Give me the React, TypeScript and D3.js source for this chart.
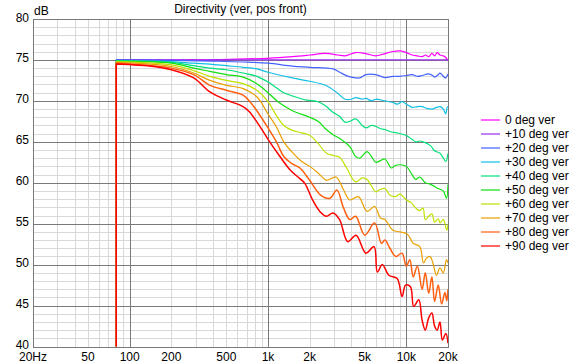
import React from 'react';
import * as d3 from 'd3';

// Directivity (ver, pos front) - frequency [Hz], level [dB]
const deg0 = [[80,75.0],[300,75.0],[600,75.1],[1000,75.2],[1500,75.4],[2000,75.6],[2600,75.8],[3200,75.6],[3600,75.5],[4300,75.9],[5000,75.8],[6000,75.5],[6800,75.7],[7800,76.0],[9100,76.1],[10000,75.9],[11000,75.6],[12000,75.5],[13000,75.4],[13800,75.6],[14500,75.4],[15300,75.8],[16000,75.5],[16700,75.9],[17500,75.6],[18500,75.5],[19300,75.3],[20000,74.9]];
const deg10 = [[80,75.0],[20000,75.0]];
const deg20 = [[80,75.0],[200,74.95],[400,74.85],[660,74.75],[1000,74.6],[1500,74.25],[2000,74.1],[2950,73.9],[3300,73.5],[3800,73.0],[4600,72.8],[5100,73.2],[6000,73.2],[7000,72.85],[8000,73.0],[9000,73.0],[10000,73.1],[11000,73.2],[12000,73.0],[13000,73.1],[14500,73.3],[15500,73.1],[16000,72.9],[17000,73.2],[17500,73.4],[18500,73.0],[19200,72.8],[20000,73.3]];
const deg30 = [[80,74.95],[200,74.8],[290,74.6],[380,74.5],[500,74.3],[660,74.1],[830,73.9],[1000,73.5],[1500,72.8],[2000,72.4],[2600,71.9],[3100,71.1],[3600,70.2],[4000,70.2],[4300,70.4],[4800,70.2],[5100,70.3],[5600,70.0],[6000,70.2],[7000,70.0],[8000,69.8],[8600,69.6],[9300,69.9],[10000,69.6],[11000,69.2],[12000,69.3],[13000,69.3],[14000,69.1],[15300,69.0],[16500,69.2],[17500,69.3],[18500,69.0],[19300,68.4],[19700,69.2],[20000,69.3]];
const deg40 = [[80,74.9],[200,74.7],[290,74.3],[380,74.0],[500,73.8],[660,73.4],[830,73.0],[1000,72.3],[1150,71.6],[1300,71.0],[1500,70.6],[1900,70.1],[2300,69.9],[2600,69.4],[2950,68.6],[3300,68.1],[3600,67.4],[3900,67.5],[4300,67.8],[4800,67.0],[5100,66.7],[5600,67.0],[6000,66.9],[6500,66.6],[7000,66.5],[7800,66.2],[8500,66.1],[9900,65.8],[11000,65.3],[11700,65.0],[12500,65.1],[13700,64.9],[15000,64.5],[16000,63.9],[17500,63.6],[18500,63.0],[19300,62.6],[20000,63.6]];
const deg50 = [[80,74.85],[200,74.6],[290,74.0],[380,73.6],[500,73.2],[660,72.9],[830,72.1],[1000,71.0],[1200,69.8],[1500,68.8],[2000,68.0],[2300,67.5],[2600,66.6],[3000,65.8],[3300,65.4],[3900,64.4],[4300,63.2],[4600,63.0],[5200,63.8],[5600,63.2],[6000,62.5],[6500,62.7],[7000,62.9],[7800,61.8],[8300,62.1],[9000,62.2],[10000,62.0],[11000,61.0],[11700,60.4],[12500,60.7],[13700,60.0],[15000,59.8],[16500,59.4],[17500,59.2],[18500,59.0],[19500,58.1],[20000,59.8]];
const deg60 = [[80,74.8],[200,74.4],[290,73.7],[380,73.0],[500,72.5],[660,72.1],[830,71.3],[1000,69.9],[1150,68.2],[1300,67.0],[1500,66.4],[1750,66.1],[2000,65.8],[2300,64.8],[2650,63.6],[3000,63.3],[3300,63.1],[3700,61.8],[4300,60.1],[4800,60.6],[5200,60.4],[5600,59.6],[6000,58.9],[6500,59.2],[7000,59.3],[7600,58.5],[8300,58.3],[9000,58.6],[10000,57.9],[10800,57.6],[11700,56.9],[12500,56.6],[13200,56.9],[13700,55.5],[14500,55.9],[15300,56.2],[16000,55.2],[17000,55.6],[17500,55.1],[18500,55.5],[19600,54.2],[20000,55.0]];
const deg70 = [[80,74.7],[200,74.2],[290,73.4],[380,72.5],[500,71.9],[660,71.5],[830,70.5],[1000,68.4],[1150,66.8],[1300,65.0],[1500,63.7],[1750,62.6],[2000,62.0],[2300,61.2],[2650,60.3],[3100,60.7],[3500,59.2],[3900,57.9],[4500,58.3],[5200,56.5],[5900,57.1],[6500,55.7],[7000,55.5],[8000,54.2],[9000,54.0],[10000,53.8],[10600,53.3],[11200,52.6],[12500,52.2],[13300,50.2],[14000,50.8],[14800,51.0],[15500,50.3],[16500,48.7],[17500,49.6],[18500,49.0],[19500,50.6],[20000,50.2]];
const deg80 = [[80,74.6],[200,74.0],[290,73.2],[380,71.9],[500,71.3],[660,70.7],[740,69.9],[830,68.8],[1000,66.7],[1150,65.0],[1300,63.2],[1500,62.3],[1700,61.8],[2000,60.3],[2400,58.5],[2800,58.1],[3150,59.1],[3500,57.0],[3900,55.5],[4300,55.9],[5000,53.6],[5900,55.1],[6600,52.6],[7000,53.0],[7600,52.0],[8400,51.0],[9300,51.4],[10000,49.8],[10600,50.6],[11200,48.5],[12000,49.8],[13000,47.0],[13700,49.0],[14500,46.5],[15300,48.5],[16000,45.5],[17000,47.5],[18000,45.2],[19000,46.6],[19600,45.6],[20000,47.0]];
const deg90 = [[80,74.5],[150,74.2],[200,73.8],[290,72.8],[380,71.1],[500,70.1],[660,69.3],[730,68.7],[880,66.8],[1000,65.3],[1220,63.2],[1440,61.6],[1700,60.5],[1850,59.9],[2100,57.9],[2370,56.5],[2640,55.9],[2950,56.3],[3290,55.5],[3770,52.8],[4330,53.6],[5100,51.4],[5840,52.2],[6170,49.1],[6700,50.0],[7480,48.7],[8580,48.3],[9320,46.1],[9860,47.5],[10700,47.3],[11300,44.9],[12300,45.7],[13000,43.2],[13700,42.0],[14500,43.5],[15300,44.1],[16000,42.5],[16700,42.0],[17500,43.0],[18200,40.8],[19300,41.6],[20000,40.4]];

const seriesNames = ['0 deg ver', '+10 deg ver', '+20 deg ver', '+30 deg ver', '+40 deg ver', '+50 deg ver', '+60 deg ver', '+70 deg ver', '+80 deg ver', '+90 deg ver'];
const seriesData = [deg0, deg10, deg20, deg30, deg40, deg50, deg60, deg70, deg80, deg90];
const seriesColors = ['#ff00ff', '#9a2ff0', '#4462ff', '#10c0e4', '#00e07c', '#10e010', '#c0e000', '#e8a000', '#ff6010', '#ff0000'];

const xTicks = [20, 50, 100, 200, 500, 1000, 2000, 5000, 10000, 20000];
const xTickLabels = ['20Hz', '50', '100', '200', '500', '1k', '2k', '5k', '10k', '20k'];
const yTicks = [40, 45, 50, 55, 60, 65, 70, 75, 80];

const W = 571;
const H = 364;
const margin = { top: 19, left: 33, right: 123, bottom: 17.5 };
const FONT = '"Liberation Sans", Arial, sans-serif';

const App: React.FC = () => {
  const x = d3.scaleLog().domain([20, 20000]).range([margin.left, W - margin.right]);
  const y = d3.scaleLinear().domain([40, 80]).range([H - margin.bottom, margin.top]);

  // minor grid: every 1-9 multiple per decade, every dB
  const minorX: number[] = [];
  [10, 100, 1000, 10000].forEach(dec => {
    for (let k = 2; k <= 9; k++) {
      const f = dec * k;
      if (f > 20 && f < 20000) minorX.push(f);
    }
  });
  const majorX = [100, 1000, 10000];
  const minorY = d3.range(41, 80).filter(v => v % 5 !== 0);
  const majorY = [45, 50, 55, 60, 65, 70, 75];

  const line = d3
    .line<number[]>()
    .x(d => x(d[0]))
    .y(d => y(d[1]))
    .curve(d3.curveCatmullRom.alpha(0.5));

  // each response starts with a vertical rise at its first frequency
  const pathFor = (pts: number[][]) => {
    const d = line(pts) || '';
    return `M${x(pts[0][0])},${y(38)}L` + d.slice(1);
  };

  const x0 = margin.left;
  const x1 = W - margin.right;
  const y0 = margin.top;
  const y1 = H - margin.bottom;

  const legendX = 481;
  const legendY = 119.5;
  const legendStep = 14;

  return (
    <svg
      width={W}
      height={H}
      style={{ position: 'absolute', left: 0, top: 0, background: '#fff', fontFamily: FONT }}
    >
      <defs>
        <clipPath id="plot">
          <rect x={x0} y={y0} width={x1 - x0} height={y1 - y0} />
        </clipPath>
      </defs>
      <rect x={0} y={0} width={W} height={H} fill="#fff" />

      {/* grid */}
      <g shapeRendering="crispEdges">
        {minorX.map(f => (
          <line key={'mx' + f} x1={Math.round(x(f)) + 0.5} x2={Math.round(x(f)) + 0.5} y1={y0} y2={y1} stroke="#d9d9d9" />
        ))}
        {minorY.map(v => (
          <line key={'my' + v} x1={x0} x2={x1} y1={Math.round(y(v)) + 0.5} y2={Math.round(y(v)) + 0.5} stroke="#d9d9d9" />
        ))}
        {majorX.map(f => (
          <line key={'Mx' + f} x1={Math.round(x(f)) + 0.5} x2={Math.round(x(f)) + 0.5} y1={y0} y2={y1} stroke="#7a7a7a" />
        ))}
        {majorY.map(v => (
          <line key={'My' + v} x1={x0} x2={x1} y1={Math.round(y(v)) + 0.5} y2={Math.round(y(v)) + 0.5} stroke="#7a7a7a" />
        ))}
        <rect x={x0 + 0.5} y={y0 + 0.5} width={x1 - x0} height={y1 - y0} fill="none" stroke="#7a7a7a" />
      </g>

      {/* curves */}
      <g clipPath="url(#plot)" fill="none">
        {seriesData.map((pts, i) => (
          <path key={i} d={pathFor(pts)} stroke={seriesColors[i]} strokeWidth={i >= 8 ? 1.5 : 1.2} strokeLinejoin="round" />
        ))}
      </g>

      {/* axes labels */}
      <g fontSize={12} fill="#000">
        {yTicks.map(v => (
          <text key={'yt' + v} x={29} y={y(v) + 2.5} textAnchor="end">{v}</text>
        ))}
        {xTicks.map((f, i) => (
          <text key={'xt' + f} x={x(f)} y={361} textAnchor="middle">{xTickLabels[i]}</text>
        ))}
        <text x={34} y={15}>dB</text>
        <text x={(x0 + x1) / 2} y={12.5} textAnchor="middle">Directivity (ver, pos front)</text>
      </g>

      {/* legend */}
      <g fontSize={12}>
        {seriesNames.map((name, i) => (
          <g key={name} transform={`translate(${legendX},${legendY + i * legendStep})`}>
            <line x1={0} x2={19} y1={0.5} y2={0.5} stroke={seriesColors[i]} strokeWidth={1.2} />
            <text x={24} y={4.5} fill="#000">{name}</text>
          </g>
        ))}
      </g>
    </svg>
  );
};

export default App;
